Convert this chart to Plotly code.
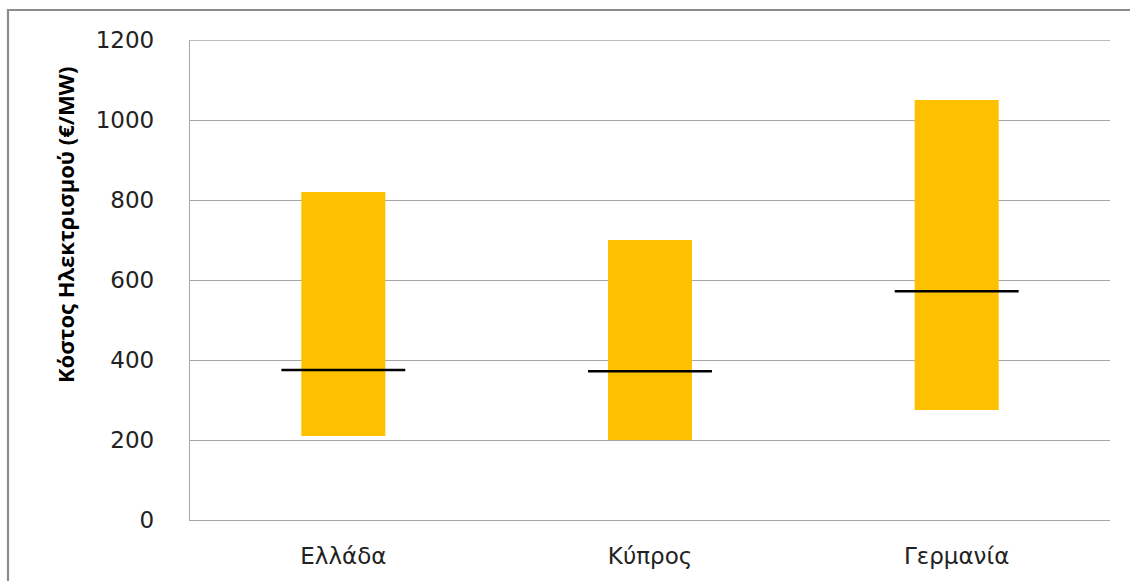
import plotly.graph_objects as go

# Electricity cost range per country (€/MW): low, high and average
countries = ["Ελλάδα", "Κύπρος", "Γερμανία"]
cost_low = [210, 200, 275]
cost_high = [820, 700, 1050]
cost_mean = [375, 372, 572]

y_ticks = [0, 200, 400, 600, 800, 1000, 1200]
y_title = "Κόστος Ηλεκτρισμού (€/MW)"

FONT = "DejaVu Sans"
TITLE_FONT = "Open Sans"
GRID = "#A6A6A6"
positions = list(range(len(countries)))

fig = go.Figure()

# floating range bars
fig.add_trace(go.Bar(
    x=positions,
    y=[h - l for h, l in zip(cost_high, cost_low)],
    base=cost_low,
    width=0.274,
    marker=dict(color="#FFC000", line=dict(width=0)),
    hoverinfo="skip",
))

# average markers as short horizontal lines
half = 0.202
mx, my = [], []
for p, m in zip(positions, cost_mean):
    mx += [p - half, p + half, None]
    my += [m, m, None]
fig.add_trace(go.Scatter(
    x=mx, y=my, mode="lines",
    line=dict(color="#000000", width=2.6),
    hoverinfo="skip",
))

fig.update_layout(
    width=1130, height=581,
    margin=dict(l=190, r=20, t=40, b=61),
    paper_bgcolor="white",
    plot_bgcolor="white",
    showlegend=False,
    font=dict(family=FONT, color="#222222"),
    xaxis=dict(
        range=[-0.5, 2.5],
        tickmode="array",
        tickvals=positions,
        ticktext=countries,
        showgrid=False,
        zeroline=False,
        showline=True,
        linecolor=GRID,
        linewidth=1.3,
        ticks="",
        tickfont=dict(size=23, family=FONT, color="#222222"),
        ticklabelstandoff=15,
    ),
    yaxis=dict(
        range=[0, 1200],
        tickmode="array",
        tickvals=y_ticks,
        showgrid=True,
        gridcolor=GRID,
        gridwidth=1.3,
        zeroline=False,
        showline=True,
        linecolor=GRID,
        linewidth=1.3,
        ticks="",
        tickfont=dict(size=23, family=FONT, color="#222222"),
        ticklabelstandoff=30,
    ),
)

# vertical axis title, placed in the upper part of the chart's left side
fig.add_annotation(
    text="<b>" + y_title + "</b>",
    xref="paper", yref="paper",
    x=-125 / 920, y=295 / 480,
    xanchor="center", yanchor="middle",
    textangle=-90, showarrow=False,
    font=dict(size=22, family=TITLE_FONT, color="#000000"),
)

# top gridline at the end of the value range
fig.add_shape(
    type="line", xref="paper", yref="y",
    x0=0, x1=1, y0=y_ticks[-1], y1=y_ticks[-1],
    line=dict(color=GRID, width=1.3),
    layer="below",
)

# outer chart frame (its right and bottom edges fall outside the page)
fig.add_shape(
    type="rect", xref="paper", yref="paper",
    x0=-182 / 920, x1=1.1,
    y0=-0.2, y1=1 + 30 / 480,
    line=dict(color="#8C8C8C", width=2.2),
    fillcolor="rgba(0,0,0,0)",
    layer="below",
)

fig.write_html("out.html")
